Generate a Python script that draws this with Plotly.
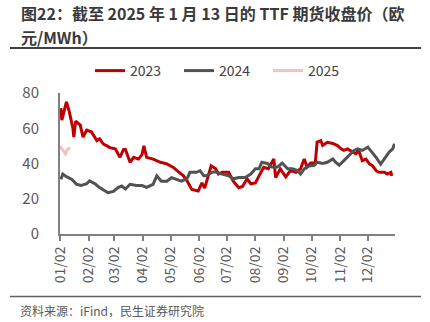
import plotly.graph_objects as go

# ---- data (month-day, value) ----
dates_2023 = ["01-03","01-04","01-09","01-12","01-16","01-17","01-19","01-24","01-27","01-31",
              "02-05","02-11","02-14","02-18","02-22","02-25","03-03","03-08","03-12","03-14",
              "03-19","03-23","03-28","04-01","04-03","04-06","04-13","04-21","04-28","05-05",
              "05-09","05-16","05-20","05-25","06-01","06-05","06-08","06-12","06-15","06-20",
              "06-23","06-27","07-04","07-09","07-15","07-19","07-24","07-28","08-02","08-06",
              "08-11","08-16","08-22","08-24","08-29","09-04","09-09","09-15","09-20","09-24",
              "09-27","10-01","10-06","10-08","10-12","10-14","10-19","10-25","10-30","11-03",
              "11-06","11-10","11-13","11-19","11-22","11-26","11-30","12-04","12-07","12-11",
              "12-14","12-20","12-23","12-27","12-28"]
vals_2023 = [71.4,64.6,75.0,69.6,60.0,55.0,64.0,61.8,55.0,58.9,
             58.0,53.0,54.0,51.0,50.0,49.0,48.3,43.5,48.0,48.0,
             40.7,43.5,42.5,45.0,50.0,43.5,42.5,40.7,39.8,37.8,
             36.0,33.0,30.0,25.3,24.4,29.0,26.0,33.0,38.7,37.0,
             34.0,35.0,35.0,30.0,26.3,27.0,31.3,28.5,29.0,33.0,
             37.8,37.0,42.6,32.0,37.0,32.4,36.0,35.0,37.0,42.6,
             38.0,40.3,40.3,52.2,53.0,50.2,52.0,51.4,50.2,48.3,
             47.5,48.3,47.5,45.5,47.5,41.6,42.5,39.7,38.8,35.9,
             35.0,35.0,34.0,35.0,33.0]

dates_2024 = ["01-03","01-05","01-09","01-15","01-20","01-25","01-31","02-03","02-09","02-14",
              "02-20","02-23","03-01","03-06","03-10","03-14","03-19","03-26","04-01","04-06",
              "04-13","04-17","04-22","04-28","05-03","05-09","05-14","05-20","05-23","05-30",
              "06-03","06-07","06-10","06-16","06-19","06-27","07-04","07-09","07-15","07-22",
              "07-28","08-02","08-06","08-09","08-15","08-20","08-26","08-31","09-06","09-11",
              "09-17","09-20","09-24","09-29","10-05","10-08","10-14","10-19","10-25","10-28",
              "11-01","11-06","11-12","11-17","11-21","11-26","12-02","12-05","12-11","12-16",
              "12-20","12-25","12-29","12-31"]
vals_2024 = [31.0,34.0,32.5,31.0,28.2,27.6,28.5,30.1,28.5,26.3,
             24.4,23.4,24.2,26.3,27.2,25.5,28.2,27.5,27.5,26.5,
             28.2,33.0,30.0,30.0,32.0,31.0,30.0,31.5,35.0,35.0,
             35.9,33.0,33.0,35.0,35.3,34.0,33.0,31.3,32.0,32.0,
             34.0,37.0,37.0,40.7,40.0,38.0,38.0,40.3,37.0,37.0,
             36.0,34.0,37.0,38.5,39.0,40.7,40.0,40.7,42.6,40.7,
             39.0,41.6,44.5,47.4,48.3,47.4,49.3,47.4,43.5,39.7,
             42.5,46.4,48.3,51.2]

dates_2025 = ["01-02","01-03","01-06","01-07","01-08","01-09","01-10","01-13"]
vals_2025 = [50.0,49.0,47.0,46.0,45.5,46.5,48.0,49.0]

tick_md = ["01-02","02-02","03-02","04-02","05-02","06-02",
           "07-02","08-02","09-02","10-02","11-02","12-02"]
tick_labels = ["01/02","02/02","03/02","04/02","05/02","06/02",
               "07/02","08/02","09/02","10/02","11/02","12/02"]

BASE = "2023-"
series = [("2023", dates_2023, vals_2023, "#C00000"),
          ("2024", dates_2024, vals_2024, "#525252"),
          ("2025", dates_2025, vals_2025, "#EFC3C3")]

FONT = "Noto Sans CJK SC"

fig = go.Figure()
for name, d, v, c in series:
    fig.add_trace(go.Scatter(x=[BASE + s for s in d], y=v, name=name, mode="lines",
                             line=dict(color=c, width=3)))

L, R, T, B = 60, 35, 93, 88
W, H = 430, 322
pw, ph = W - L - R, H - T - B

def px(x):
    return (x - L) / pw

def py(y):
    return (H - B - y) / ph

fig.update_layout(
    width=W, height=H,
    margin=dict(l=L, r=R, t=T, b=B),
    paper_bgcolor="white", plot_bgcolor="white",
    font=dict(family=FONT, color="#595959", size=14),
    showlegend=True,
    legend=dict(orientation="h", x=px(90), xanchor="left", y=py(71), yanchor="middle",
                font=dict(size=14, color="#404040"), bgcolor="rgba(0,0,0,0)",
                itemwidth=30, traceorder="normal", entrywidth=44, entrywidthmode="pixels"),
    xaxis=dict(type="date", range=[BASE + "01-02", BASE + "12-31 12:00"],
               tickvals=[BASE + s for s in tick_md], ticktext=tick_labels,
               tickangle=-90, ticks="outside", ticklen=5, tickcolor="#808080",
               tickwidth=1.5, showline=True, linecolor="#808080", linewidth=2,
               showgrid=False, zeroline=False, tickfont=dict(size=14, color="#595959")),
    yaxis=dict(range=[0, 80], tickvals=[0, 20, 40, 60, 80], showline=True,
               linecolor="#808080", linewidth=2, showgrid=False, zeroline=False,
               ticks="", ticklabelstandoff=16, tickfont=dict(size=15, color="#595959")),
    annotations=[
        dict(text="<b>图22：截至 2025 年 1 月 13 日的 TTF 期货收盘价（欧</b>", xref="paper", yref="paper",
             x=px(19), y=py(13), xanchor="left", yanchor="middle", showarrow=False,
             font=dict(size=16, color="#3A3A3A", family=FONT)),
        dict(text="<b>元/MWh）</b>", xref="paper", yref="paper",
             x=px(19), y=py(37), xanchor="left", yanchor="middle", showarrow=False,
             font=dict(size=16, color="#3A3A3A", family=FONT)),
        dict(text="资料来源：iFind，民生证券研究院", xref="paper", yref="paper",
             x=px(18), y=py(310), xanchor="left", yanchor="middle", showarrow=False,
             font=dict(size=12, color="#595959", family=FONT)),
    ],
    shapes=[
        dict(type="line", xref="paper", yref="paper", x0=px(10), x1=px(421), y0=py(48), y1=py(48),
             line=dict(color="#404040", width=2)),
        dict(type="line", xref="paper", yref="paper", x0=px(10), x1=px(421), y0=py(296.5), y1=py(296.5),
             line=dict(color="#606060", width=1.5)),
    ],
)

fig.write_html("out.html")
